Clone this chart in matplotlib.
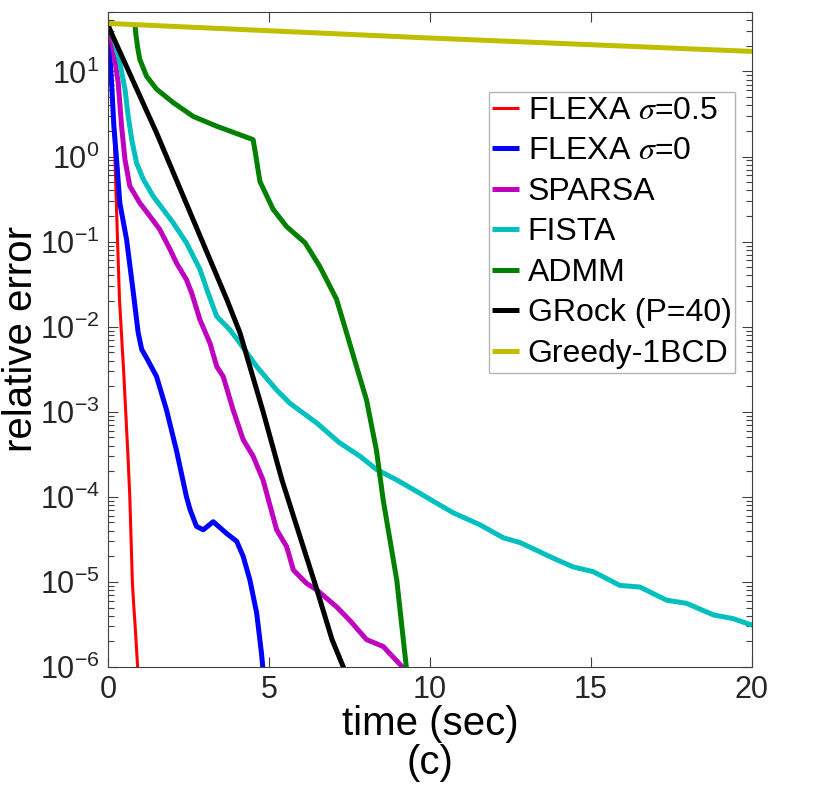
import numpy as np
import matplotlib
matplotlib.use("Agg")
import matplotlib.pyplot as plt
from matplotlib.ticker import FixedLocator, LogLocator, NullFormatter

plt.rcParams['font.family'] = ['Liberation Sans', 'DejaVu Sans']
plt.rcParams['mathtext.fontset'] = 'stix'

# curves: time (sec) and relative error
t_flexa05 = [0, 0.1, 0.2, 0.3, 0.36, 0.5, 0.62, 0.68, 0.76, 0.79, 0.86, 0.93]
e_flexa05 = [36, 8.0, 1.6, 0.10, 2.1e-2, 2.5e-3, 3.2e-4, 1.0e-4, 1.0e-5, 6.3e-6, 2.5e-6, 9.0e-7]

t_flexa0 = [0, 0.114, 0.186, 0.27, 0.37, 0.58, 0.79, 0.94, 1.05, 1.2, 1.51, 1.82, 2.13, 2.44,
            2.55, 2.75, 2.96, 3.27, 3.69, 4.0, 4.2, 4.41, 4.62, 4.77, 4.82]
e_flexa0 = [36, 7.4, 2.27, 0.92, 0.285, 0.106, 2.5e-2, 8.5e-3, 5.4e-3, 4.3e-3, 2.6e-3, 1.05e-3, 3.5e-4, 1.0e-4,
            7.1e-5, 4.5e-5, 4.1e-5, 5.1e-5, 3.7e-5, 3.0e-5, 2.0e-5, 1.05e-5, 4.3e-6, 1.44e-6, 9.0e-7]

t_sparsa = [0, 0.166, 0.32, 0.425, 0.53, 0.68, 0.99, 1.3, 1.61, 1.93, 2.13, 2.44, 2.6, 2.86, 3.17,
            3.38, 3.58, 3.89, 4.2, 4.51, 4.82, 5.03, 5.24, 5.55, 5.76, 6.17, 6.48, 7.1, 7.52,
            8.03, 8.55, 9.2]
e_sparsa = [36, 18.2, 7.4, 2.27, 0.92, 0.45, 0.285, 0.2, 0.139, 0.081, 0.056, 0.0357, 0.025, 0.012, 6.4e-3,
            3.4e-3, 2.6e-3, 1.05e-3, 4.7e-4, 3.0e-4, 1.57e-4, 8.0e-5, 4.1e-5, 2.6e-5, 1.38e-5, 9.6e-6, 8.1e-6, 5.1e-6, 3.5e-6,
            2.1e-6, 1.74e-6, 9.5e-7]

t_fista = [0, 0.217, 0.37, 0.53, 0.63, 0.74, 0.89, 1.1, 1.41, 1.72, 2.03, 2.44, 2.86, 3.11, 3.38,
           3.79, 4.1, 4.62, 5.24, 5.65, 6.48, 7.2, 7.83, 8.34, 8.97, 9.69, 10.1, 10.72, 11.55,
           12.28, 12.8, 13.83, 14.45, 15.07, 15.9, 16.52, 17.35, 17.97, 18.8, 19.42, 20]
e_fista = [36, 21.7, 12.7, 6.2, 2.98, 1.58, 0.84, 0.54, 0.34, 0.238, 0.166, 0.0966, 0.047, 0.025, 0.0132,
           9.2e-3, 6.4e-3, 3.4e-3, 1.8e-3, 1.26e-3, 7.4e-4, 4.3e-4, 3.0e-4, 2.1e-4, 1.58e-4, 1.1e-4, 8.9e-5, 6.5e-5, 4.7e-5,
           3.3e-5, 2.9e-5, 1.9e-5, 1.5e-5, 1.32e-5, 9.1e-6, 8.7e-6, 6.1e-6, 5.6e-6, 4.1e-6, 3.7e-6, 3.1e-6]

t_admm = [0.84, 0.87, 0.92, 0.99, 1.2, 1.51, 2.03, 2.65, 3.38, 4.51, 4.58, 4.72, 5.13, 5.55, 6.12, 6.58, 7.1,
          7.41, 7.72, 8.03, 8.34, 8.55, 8.97, 9.28]
e_admm = [36, 27, 19.5, 13.9, 8.8, 6.2, 4.3, 2.96, 2.27, 1.58, 1.1, 0.51, 0.24, 0.15, 0.097, 0.051, 0.021,
          8.5e-3, 3.4e-3, 1.38e-3, 3.5e-4, 9.1e-5, 1.05e-5, 9.0e-7]

t_grock = [0, 0.06, 1.51, 3.69, 4.1, 4.82, 5.4, 6.49, 6.96, 7.36]
e_grock = [36, 31, 1.9, 2.1e-2, 8.5e-3, 1.0e-3, 1.6e-4, 8.1e-6, 2.1e-6, 9.0e-7]

t_greedy = [0, 9.7, 20]
e_greedy = [36.7, 25, 17.2]

series = [
    (t_flexa05, e_flexa05, 'FLEXA $\\sigma$=0.5', '#ff0000', 2.2),
    (t_flexa0, e_flexa0, 'FLEXA $\\sigma$=0', '#0000ff', 3.6),
    (t_sparsa, e_sparsa, 'SPARSA', '#bf00bf', 3.6),
    (t_fista, e_fista, 'FISTA', '#00bfbf', 3.6),
    (t_admm, e_admm, 'ADMM', '#008000', 3.6),
    (t_grock, e_grock, 'GRock (P=40)', '#000000', 3.6),
    (t_greedy, e_greedy, 'Greedy-1BCD', '#bfbf00', 3.6),
]

fig = plt.figure(figsize=(8.3, 8.0), dpi=100)
ax = fig.add_axes([0.130, 0.16625, 0.776, 0.81875])

for t, e, lab, col, lw in series:
    ax.plot(t, e, color=col, lw=lw, label=lab, solid_capstyle='butt')

ax.set_yscale('log')
ax.set_xlim(0, 20)
ax.set_ylim(1e-6, 50)
ax.xaxis.set_major_locator(FixedLocator([0, 5, 10, 15, 20]))
ax.yaxis.set_major_locator(FixedLocator([10.0**k for k in range(-6, 2)]))
ax.set_yticklabels(['$\\mathregular{10^{%d}}$' % k for k in range(-6, 2)])
ax.yaxis.set_minor_locator(LogLocator(base=10, subs=np.arange(2, 10), numticks=20))
ax.yaxis.set_minor_formatter(NullFormatter())

ax.tick_params(which='both', direction='in', top=True, right=True, colors='#404040',
               labelcolor='#262626', labelsize=22, width=0.8)
ax.tick_params(which='major', length=7, pad=6)
ax.tick_params(which='minor', length=4)
for s in ax.spines.values():
    s.set_color('#404040')
    s.set_linewidth(0.8)

ax.set_xlabel('time (sec)\n(c)', fontsize=29, labelpad=0, linespacing=1.02)
ax.set_ylabel('relative error', fontsize=29, labelpad=0)

leg = ax.legend(loc='upper right', bbox_to_anchor=(0.974, 0.878), borderaxespad=0,
                fontsize=23, handlelength=0.82, handletextpad=0.28, labelspacing=0.33,
                fancybox=False, frameon=True, borderpad=0.12)
leg.get_frame().set_edgecolor('#a0a0a0')
leg.get_frame().set_linewidth(1.0)

fig.savefig('out.png', dpi=100)
